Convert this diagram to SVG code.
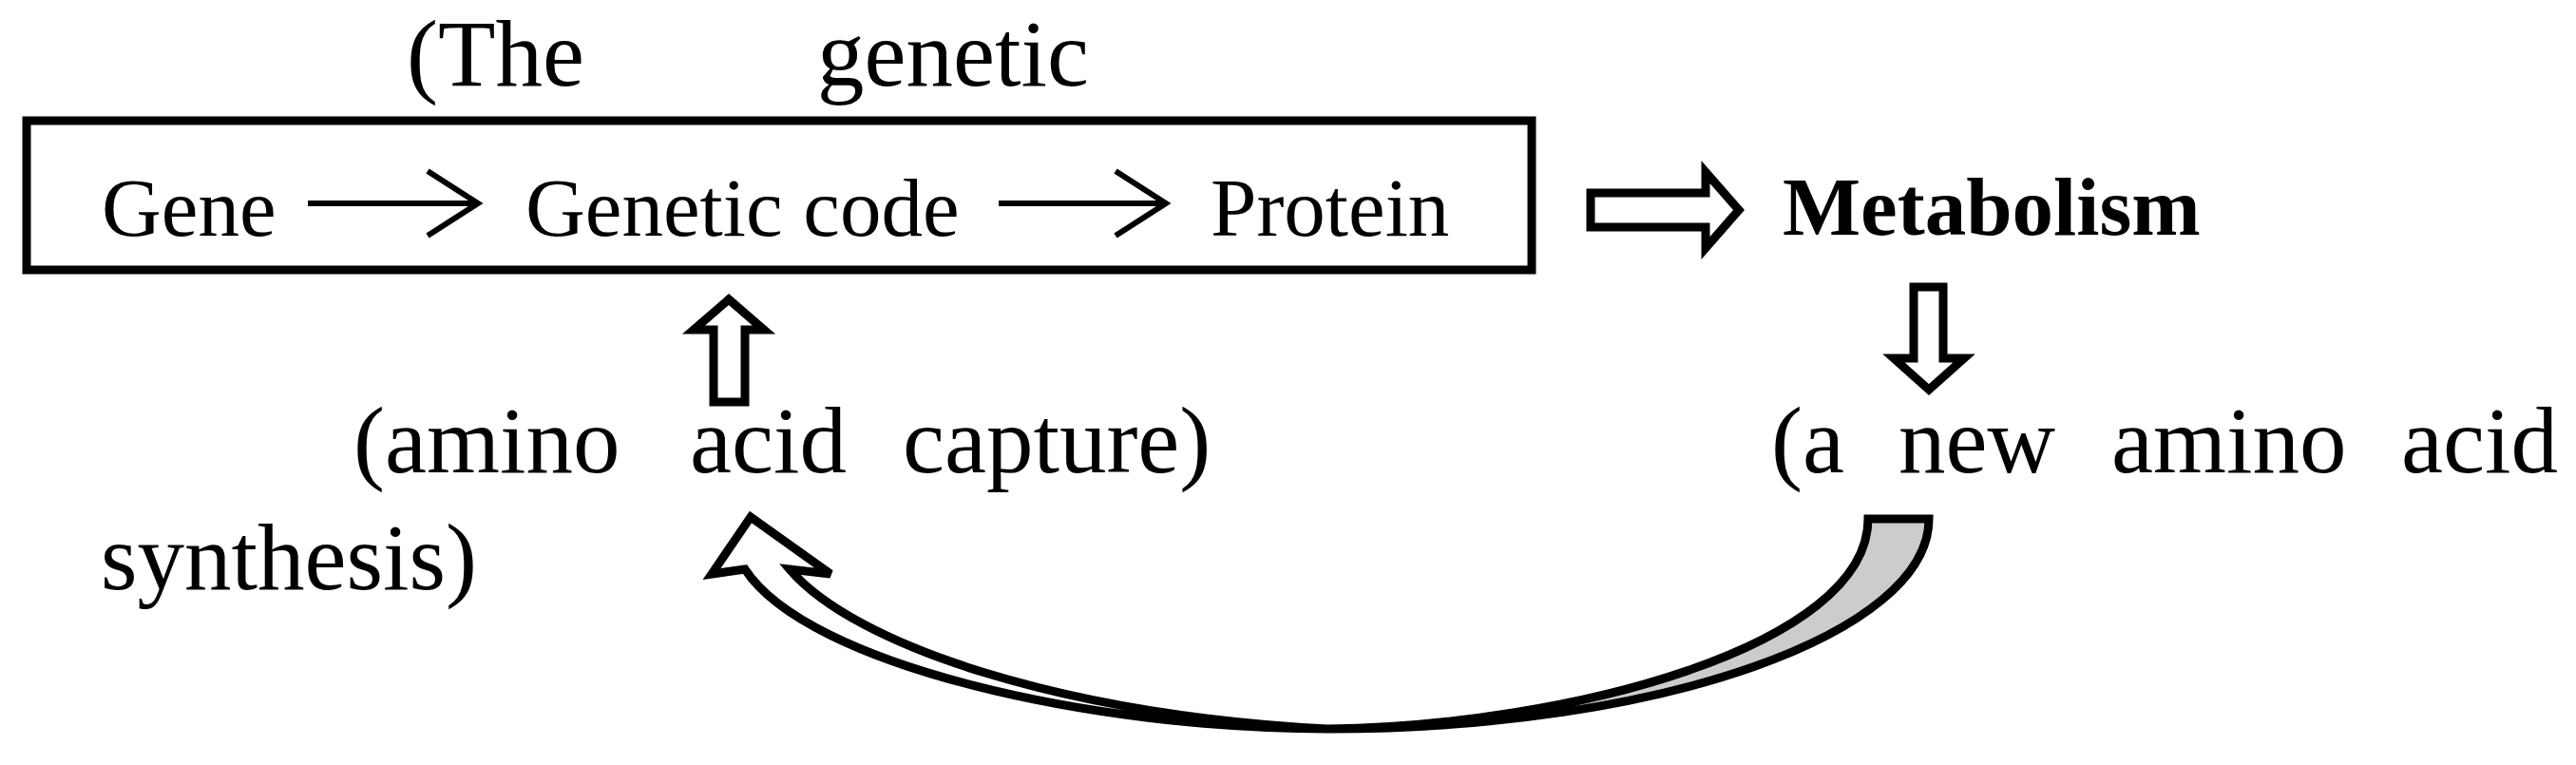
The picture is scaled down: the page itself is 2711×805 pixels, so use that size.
<svg xmlns="http://www.w3.org/2000/svg" width="2711" height="805" viewBox="0 0 2711 805">
<style>
.t{font-family:"Liberation Serif","Times New Roman",serif;fill:#000}
.big{font-size:99px}
.mid{font-size:87px}
.b{font-weight:bold}
.thin{fill:none;stroke:#000;stroke-width:6;stroke-linecap:butt}
.hollow{fill:#fff;stroke:#000;stroke-width:9;stroke-linejoin:miter}
.back{fill:#cccccc;stroke:#000;stroke-width:9;stroke-linejoin:miter}
</style>
<rect width="2711" height="805" fill="#fff"/>
<g id="title">
<text class="t big" y="90"><tspan x="428">(The</tspan><tspan x="860">genetic</tspan></text>
</g>
<g id="box">
<rect x="28" y="127" width="1584" height="157" fill="#fff" stroke="#000" stroke-width="9"/>
</g>
<g id="gene"><text class="t mid" x="107" y="248">Gene</text></g>
<g id="genetic-code"><text class="t mid" x="553" y="248">Genetic code</text></g>
<g id="protein"><text class="t mid" x="1274" y="248">Protein</text></g>
<g id="metabolism"><text class="t mid b" x="1876" y="247">Metabolism</text></g>
<g id="new-amino-acid">
<text class="t big" y="497"><tspan x="1864">(a</tspan><tspan x="1998">new</tspan><tspan x="2222">amino</tspan><tspan x="2527">acid</tspan></text>
</g>
<g id="amino-acid-capture">
<text class="t big" y="497"><tspan x="372">(amino</tspan><tspan x="726">acid</tspan><tspan x="950">capture)</tspan></text>
</g>
<g id="synthesis"><text class="t big" x="106" y="620">synthesis)</text></g>
<g id="connectors">
<path class="thin" d="M324,214 H501 M450,180 L503,214 L450,248"/>
<path class="thin" d="M1051,214 H1225 M1174,180 L1227,214 L1174,248"/>
<path class="hollow" d="M1674,203 L1795,203 L1795,181 L1830,221 L1795,261 L1795,239 L1674,239 Z"/>
<path class="hollow" d="M2014,302 L2045,302 L2045,377 L2067,377 L2030,410 L1993,377 L2014,377 Z"/>
<path class="hollow" d="M751,423 L784,423 L784,347 L804,347 L767,315 L730,347 L751,347 Z"/>
<path class="back" d="M1966,546 L2030,546 C2030,666 1750,767 1397,767 C1650,764 1966,680 1966,546 Z"/>
<path class="hollow" d="M784,599 L749,604 L790,544 L874,604 L831,599 C900,680 1120,752 1397,767 C1150,767 850,700 784,599 Z"/>
</g>
</svg>
